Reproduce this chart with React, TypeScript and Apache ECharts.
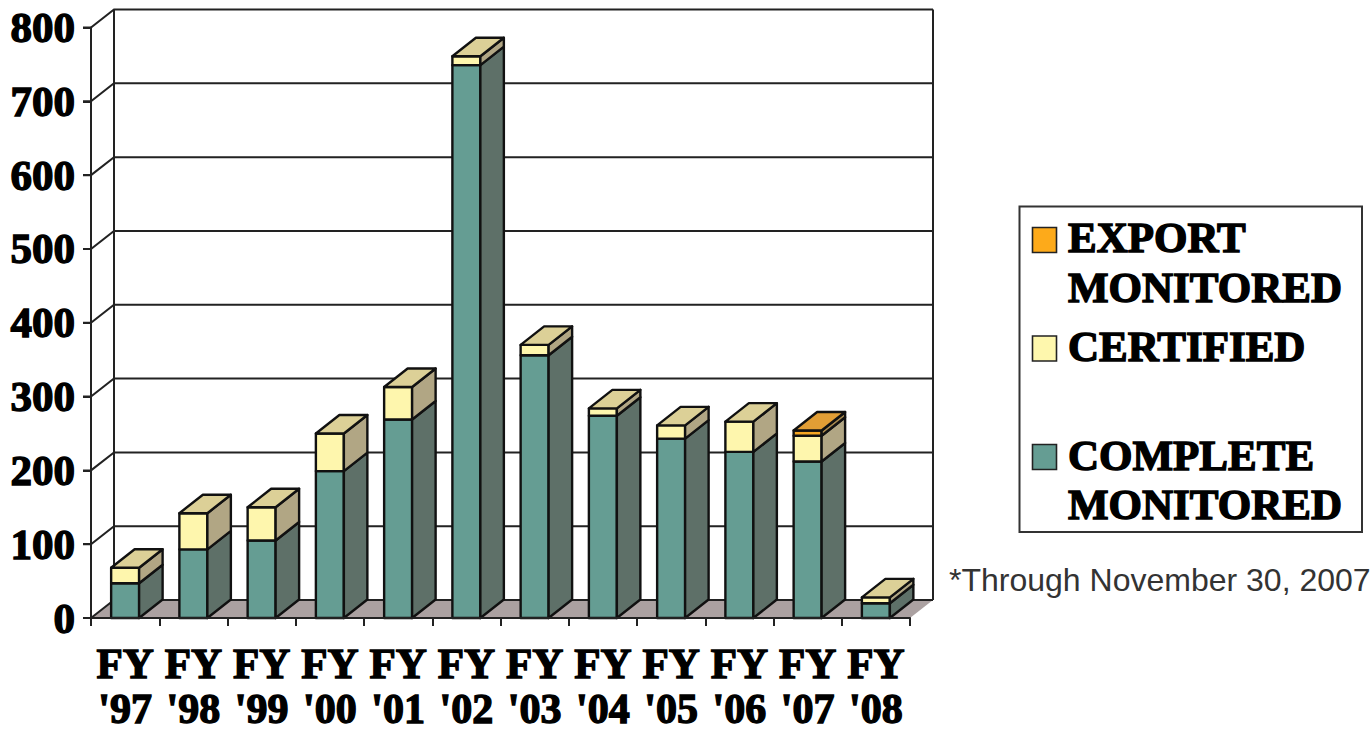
import React, { useEffect, useRef } from "react";
import * as echarts from "echarts";

const categories = ["FY\n'97", "FY\n'98", "FY\n'99", "FY\n'00", "FY\n'01", "FY\n'02", "FY\n'03", "FY\n'04", "FY\n'05", "FY\n'06", "FY\n'07", "FY\n'08"];
const completeMonitored = [47, 93, 105, 199, 269, 749, 356, 274, 243, 225, 212, 20];
const certified = [21, 49, 45, 51, 44, 12, 14, 10, 18, 41, 35, 8];
const exportMonitored = [0, 0, 0, 0, 0, 0, 0, 0, 0, 0, 7, 0];
const yTicks = [0, 100, 200, 300, 400, 500, 600, 700, 800];
const footnote = "*Through November 30, 2007";

const SERIF = '"Liberation Serif", serif';
const INK = "#111";
const RULE = "#222";
const WALL_DX = 23;
const WALL_DY = 18;
const BAR_DX = 23.5;
const BAR_DY = 18.5;
const TICK = 8;

const palette = {
  complete: { front: "#659d93", side: "#5e7068", top: "#7fa89f" },
  certified: { front: "#fef6ad", side: "#b1a684", top: "#dcd097" },
  export: { front: "#f5a623", side: "#a98a4f", top: "#e29e35" },
};

type Face = { front: string; side: string; top: string };

// Each segment row: category index, lower value, upper value, 1 when it caps the stack.
function segments(values: number[], below: number[][], above: number[][]) {
  return values
    .map((v, i) => {
      const start = below.reduce((sum, s) => sum + s[i], 0);
      const capped = above.every((s) => s[i] === 0);
      return [i, start, start + v, capped ? 1 : 0, v];
    })
    .filter((row) => row[4] > 0);
}

function barRenderer(face: Face) {
  return (_params: any, api: any) => {
    const i = api.value(0);
    const bottom = api.coord([i, api.value(1)]);
    const top = api.coord([i, api.value(2)]);
    const width = api.size([1, 0])[0] * 0.41;
    const l = bottom[0] - width / 2;
    const r = bottom[0] + width / 2;
    const edge = { stroke: INK, lineWidth: 2.4, lineJoin: "round" };
    const children: any[] = [
      {
        type: "polygon",
        shape: { points: [[l, top[1]], [r, top[1]], [r, bottom[1]], [l, bottom[1]]] },
        style: { fill: face.front, ...edge },
      },
      {
        type: "polygon",
        shape: {
          points: [
            [r, top[1]],
            [r + BAR_DX, top[1] - BAR_DY],
            [r + BAR_DX, bottom[1] - BAR_DY],
            [r, bottom[1]],
          ],
        },
        style: { fill: face.side, ...edge },
      },
    ];
    if (api.value(3) === 1) {
      children.push({
        type: "polygon",
        shape: {
          points: [
            [l, top[1]],
            [l + BAR_DX, top[1] - BAR_DY],
            [r + BAR_DX, top[1] - BAR_DY],
            [r, top[1]],
          ],
        },
        style: { fill: face.top, ...edge },
      });
    }
    return { type: "group", children };
  };
}

// Value tick, the diagonal return along the left wall, and the back wall rule.
function gridRenderer(params: any, api: any) {
  const sys = params.coordSys;
  const y = api.coord([0, api.value(0)])[1];
  const x0 = sys.x;
  const x1 = sys.x + sys.width;
  return {
    type: "polyline",
    shape: {
      points: [
        [x0 - TICK, y],
        [x0, y],
        [x0 + WALL_DX, y - WALL_DY],
        [x1 + WALL_DX, y - WALL_DY],
      ],
    },
    style: { fill: "none", stroke: RULE, lineWidth: 2 },
  };
}

// Floor plane, the front value axis and the two vertical edges of the back wall.
function wallRenderer(params: any, api: any) {
  const sys = params.coordSys;
  const base = api.coord([0, 0])[1];
  const crown = api.coord([0, 800])[1];
  const x0 = sys.x;
  const x1 = sys.x + sys.width;
  const upright = (x: number, lift: number) => ({
    type: "line",
    shape: { x1: x, y1: crown - lift, x2: x, y2: base - lift },
    style: { stroke: RULE, lineWidth: 2 },
  });
  return {
    type: "group",
    children: [
      {
        type: "polygon",
        shape: {
          points: [
            [x0, base],
            [x0 + WALL_DX, base - WALL_DY],
            [x1 + WALL_DX, base - WALL_DY],
            [x1, base],
          ],
        },
        style: { fill: "#aba1a1", stroke: "none" },
      },
      upright(x0, 0),
      upright(x0 + WALL_DX, WALL_DY),
      upright(x1 + WALL_DX, WALL_DY),
    ],
  };
}

function legendText(text: string, y: number) {
  return {
    type: "text",
    x: 1068,
    y,
    z: 20,
    style: {
      text,
      font: `bold 43px ${SERIF}`,
      fill: "#000",
      stroke: "#000",
      lineWidth: 1.4,
      verticalAlign: "middle",
    },
  };
}

function legendSwatch(fill: string, y: number) {
  return {
    type: "rect",
    z: 20,
    shape: { x: 1032.5, y, width: 24, height: 25 },
    style: { fill, stroke: RULE, lineWidth: 1.6 },
  };
}

export default function App() {
  const ref = useRef<HTMLDivElement>(null);

  useEffect(() => {
    const chart = echarts.init(ref.current!, undefined, { renderer: "svg" });
    const labelStyle = {
      color: "#000",
      fontFamily: SERIF,
      fontWeight: "bold" as const,
      fontSize: 43,
      textBorderColor: "#000",
      textBorderWidth: 1.4,
    };
    const axisStroke = { color: RULE, width: 2 };
    chart.setOption({
      animation: false,
      backgroundColor: "#fff",
      grid: { left: 91, right: 462, top: 27.5, bottom: 115, containLabel: false, outerBoundsMode: "none" },
      xAxis: {
        type: "category",
        data: categories,
        z: 6,
        axisLine: { show: true, onZero: false, lineStyle: axisStroke },
        axisTick: { show: true, alignWithLabel: false, length: TICK, lineStyle: axisStroke },
        axisLabel: {
          ...labelStyle,
          interval: 0,
          margin: 10,
          hideOverlap: false,
          formatter: (value: string) => {
            const [fy, year] = value.split("\n");
            return `{fy|${fy}}\n{year|${year}}`;
          },
          rich: {
            fy: { ...labelStyle, lineHeight: 70 },
            year: { ...labelStyle, fontSize: 42, lineHeight: 22 },
          },
        },
        splitLine: { show: false },
      },
      yAxis: {
        type: "value",
        min: 0,
        max: 800,
        interval: 100,
        z: 6,
        axisLine: { show: true, onZero: false, lineStyle: axisStroke },
        axisTick: { show: true, length: TICK, lineStyle: axisStroke },
        axisLabel: { ...labelStyle, margin: 16 },
        splitLine: { show: false },
      },
      series: [
        {
          type: "custom",
          name: "Floor",
          z: 1,
          silent: true,
          clip: false,
          data: [[0, 0]],
          renderItem: wallRenderer,
        },
        {
          type: "custom",
          name: "Gridlines",
          z: 2,
          silent: true,
          clip: false,
          encode: { y: 0 },
          data: yTicks.map((v) => [v]),
          renderItem: gridRenderer,
        },
        {
          type: "custom",
          name: "COMPLETE MONITORED",
          z: 3,
          clip: false,
          encode: { x: 0, y: [1, 2] },
          data: segments(completeMonitored, [], [certified, exportMonitored]),
          renderItem: barRenderer(palette.complete),
        },
        {
          type: "custom",
          name: "CERTIFIED",
          z: 4,
          clip: false,
          encode: { x: 0, y: [1, 2] },
          data: segments(certified, [completeMonitored], [exportMonitored]),
          renderItem: barRenderer(palette.certified),
        },
        {
          type: "custom",
          name: "EXPORT MONITORED",
          z: 5,
          clip: false,
          encode: { x: 0, y: [1, 2] },
          data: segments(exportMonitored, [completeMonitored, certified], []),
          renderItem: barRenderer(palette.export),
        },
      ],
      graphic: [
        {
          type: "rect",
          z: 19,
          shape: { x: 1019.5, y: 206.5, width: 342.5, height: 325.5 },
          style: { fill: "#fff", stroke: "#333", lineWidth: 2 },
        },
        legendSwatch("#fdaa1a", 227.5),
        legendSwatch("#fef7ad", 336),
        legendSwatch(palette.complete.front, 444.5),
        legendText("EXPORT", 237),
        legendText("MONITORED", 287),
        legendText("CERTIFIED", 346),
        legendText("COMPLETE", 455),
        legendText("MONITORED", 504),
        {
          type: "text",
          x: 949,
          y: 580,
          z: 20,
          style: {
            text: footnote,
            font: '32px "Liberation Sans", Arial, sans-serif',
            fill: "#333",
            verticalAlign: "middle",
          },
        },
      ],
    });
    return () => chart.dispose();
  }, []);

  return (
    <div
      ref={ref}
      style={{ position: "absolute", left: 0, top: 0, width: 1372, height: 733 }}
    />
  );
}
